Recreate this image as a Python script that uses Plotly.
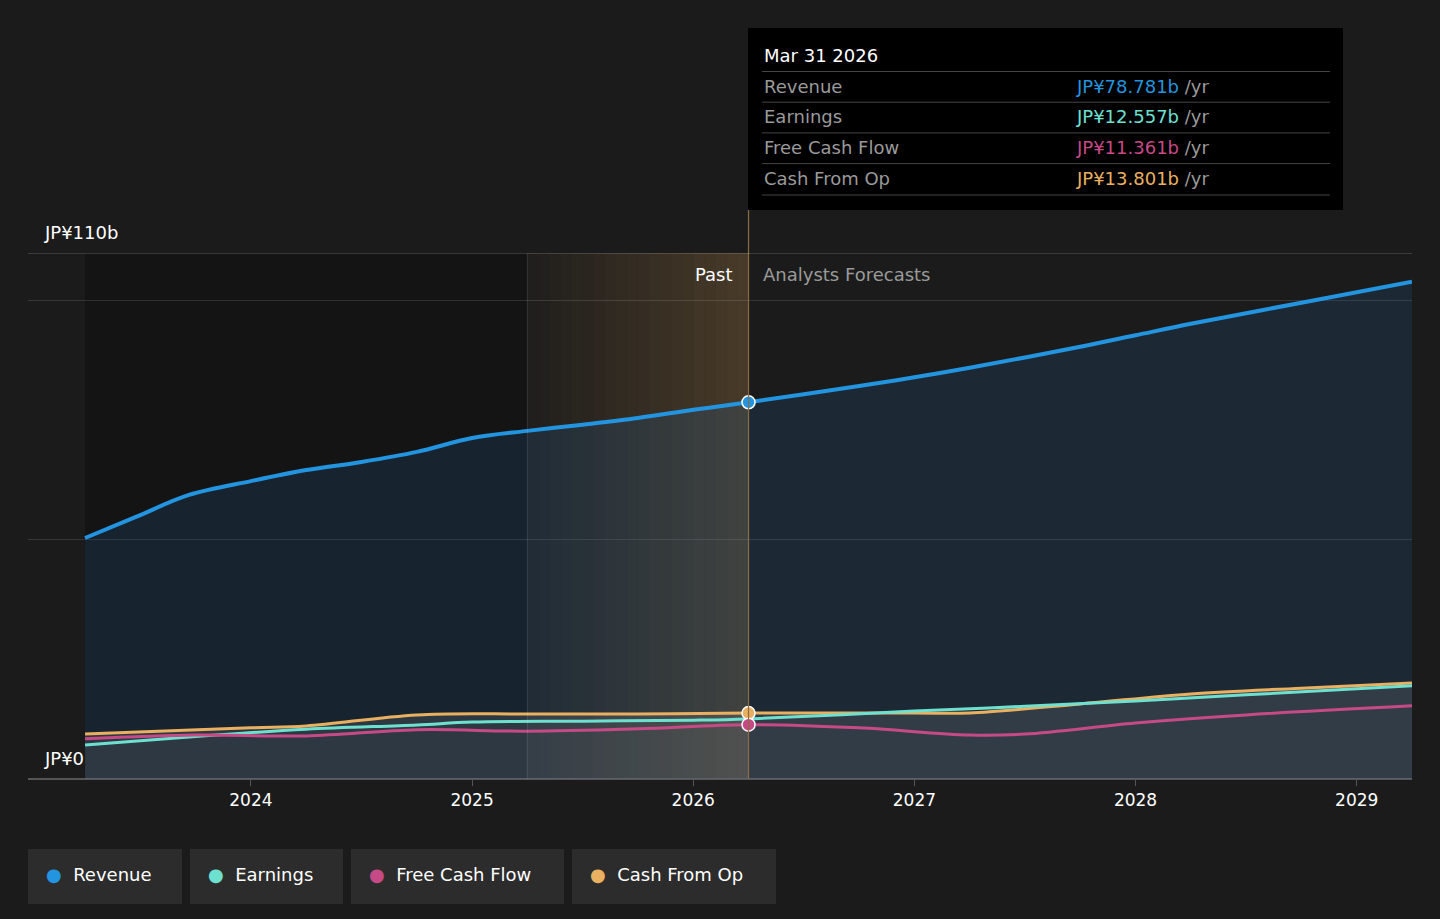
import plotly.graph_objects as go

# decimal years (Mar 31 = .25)
rev_x = [2023.25, 2023.48, 2023.72, 2024.0, 2024.25, 2024.5, 2024.75, 2025.0, 2025.25,
         2025.5, 2025.75, 2026.0, 2026.25, 2026.75, 2027.0, 2027.25, 2027.75, 2028.0,
         2028.25, 2028.75, 2029.25]
revenue = [50.4, 54.8, 59.4, 62.3, 64.6, 66.3, 68.4, 71.3, 72.8,
           74.1, 75.5, 77.2, 78.781, 82.2, 84.0, 86.0, 90.4, 92.8,
           95.2, 99.6, 104.0]

earn_x = [2023.25, 2023.75, 2024.25, 2024.75, 2025.0, 2025.5, 2026.0, 2026.25, 2027.0, 2027.5, 2028.0, 2028.5, 2029.25]
earnings = [7.1, 8.9, 10.4, 11.3, 11.9, 12.1, 12.3, 12.557, 14.2, 15.2, 16.3, 17.6, 19.5]

fcf_x = [2023.25, 2023.75, 2024.25, 2024.75, 2025.25, 2025.75, 2026.25, 2026.75, 2027.25, 2027.5, 2028.0, 2028.5, 2029.25]
fcf = [8.4, 9.2, 9.0, 10.3, 10.0, 10.5, 11.361, 10.7, 9.2, 9.4, 11.7, 13.4, 15.3]

cfo_x = [2023.25, 2024.0, 2024.25, 2024.75, 2025.25, 2025.75, 2026.25, 2027.0, 2027.25, 2027.75, 2028.25, 2028.75, 2029.25]
cfo = [9.4, 10.7, 11.1, 13.4, 13.6, 13.6, 13.801, 13.8, 13.8, 15.7, 17.8, 19.0, 20.1]

years = [2024, 2025, 2026, 2027, 2028, 2029]

BG = '#1b1b1b'
C_REV, C_EARN, C_FCF, C_CFO = '#2394df', '#6ee0d0', '#c64a86', '#e8b060'
FONT = 'DejaVu Sans'

fig = go.Figure()
fig.add_trace(go.Scatter(x=rev_x, y=revenue, mode='lines', line=dict(color=C_REV, width=4, shape='spline'),
                         fill='tozeroy', fillcolor='rgba(35,100,160,0.2)'))
fig.add_trace(go.Scatter(x=cfo_x, y=cfo, mode='lines', line=dict(color=C_CFO, width=3, shape='spline'),
                         fill='tozeroy', fillcolor='rgba(140,140,140,0.2)'))
fig.add_trace(go.Scatter(x=earn_x, y=earnings, mode='lines', line=dict(color=C_EARN, width=3, shape='spline')))
fig.add_trace(go.Scatter(x=fcf_x, y=fcf, mode='lines', line=dict(color=C_FCF, width=3, shape='spline')))
for xs, ys, c in [(rev_x, revenue, C_REV), (cfo_x, cfo, C_CFO), (fcf_x, fcf, C_FCF)]:
    i = xs.index(2026.25)
    fig.add_trace(go.Scatter(x=[xs[i]], y=[ys[i]], mode='markers',
                             marker=dict(color=c, size=13, line=dict(color='white', width=1.5))))

shapes = [
    dict(type='rect', xref='x', yref='y', x0=2023.25, x1=2025.25, y0=0, y1=110,
         fillcolor='rgba(0,0,0,0.25)', line_width=0, layer='below'),
    dict(type='line', xref='x', yref='y', x0=2025.25, x1=2025.25, y0=0, y1=110,
         line=dict(color='rgba(255,255,255,0.12)', width=1)),
    dict(type='line', xref='x', yref='paper', x0=2026.25, x1=2026.25, y0=0, y1=1.083,
         line=dict(color='#8a6d45', width=1.2)),
    dict(type='line', xref='paper', yref='y', x0=0, x1=1, y0=110, y1=110,
         line=dict(color='rgba(255,255,255,0.3)', width=1)),
    # tooltip box
    dict(type='rect', xref='paper', yref='paper', x0=(748 - 28) / 1384, x1=(1343 - 28) / 1384,
         y0=(779 - 210) / 526, y1=(779 - 28) / 526, fillcolor='black', line_width=0),
]
# gradient for the last past year
n = 20
for k in range(n):
    a = 0.02 + 0.2 * (k + 1) / n
    shapes.append(dict(type='rect', xref='x', yref='y', x0=2025.25 + k / n, x1=2025.25 + (k + 1) / n,
                       y0=0, y1=110, fillcolor=f'rgba(232,170,90,{a:.3f})', line_width=0, layer='below'))

ann = [
    dict(text='JP¥110b', x=0.01, y=110, xref='paper', yref='y', yanchor='bottom', yshift=8, showarrow=False,
         font=dict(color='white', size=18), xanchor='left'),
    dict(text='JP¥0', x=0.01, y=0, xref='paper', yref='y', yanchor='bottom', yshift=8, showarrow=False,
         font=dict(color='white', size=18), xanchor='left'),
    dict(text='Past', x=2026.25, y=105.5, xref='x', yref='y', xanchor='right', xshift=-14, showarrow=False,
         font=dict(color='white', size=18)),
    dict(text='Analysts Forecasts', x=2026.25, y=105.5, xref='x', yref='y', xanchor='left', xshift=12,
         showarrow=False, font=dict(color='#9a9a9a', size=18)),
]
tx0 = (762 - 28) / 1384
tx1 = (1074 - 28) / 1384
tx2 = (1330 - 28) / 1384
ypx = lambda p: (779 - p) / 526
ann.append(dict(text='Mar 31 2026', x=tx0, y=ypx(55), xref='paper', yref='paper', xanchor='left',
                yanchor='middle', showarrow=False, font=dict(color='white', size=18)))
rows = [('Revenue', 'JP¥78.781b', C_REV), ('Earnings', 'JP¥12.557b', C_EARN),
        ('Free Cash Flow', 'JP¥11.361b', C_FCF), ('Cash From Op', 'JP¥13.801b', C_CFO)]
for k, (name, val, c) in enumerate(rows):
    yy = 86 + k * 30.7
    ann.append(dict(text=name, x=tx0, y=ypx(yy), xref='paper', yref='paper', xanchor='left',
                    yanchor='middle', showarrow=False, font=dict(color='#9a9a9a', size=18)))
    ann.append(dict(text=f'<span style="color:{c}">{val}</span> /yr', x=tx1, y=ypx(yy), xref='paper',
                    yref='paper', xanchor='left', yanchor='middle', showarrow=False,
                    font=dict(color='#9a9a9a', size=18)))
    shapes.append(dict(type='line', xref='paper', yref='paper', x0=tx0, x1=tx2,
                       y0=ypx(yy - 14.5), y1=ypx(yy - 14.5), line=dict(color='#444', width=1)))
shapes.append(dict(type='line', xref='paper', yref='paper', x0=tx0, x1=tx2,
                   y0=ypx(195), y1=ypx(195), line=dict(color='#444', width=1)))

# legend buttons
legend = [('Revenue', C_REV, 28, 182), ('Earnings', C_EARN, 190, 343),
          ('Free Cash Flow', C_FCF, 351, 564), ('Cash From Op', C_CFO, 572, 776)]
for name, c, a, b in legend:
    shapes.append(dict(type='rect', xref='paper', yref='paper', x0=(a - 28) / 1384, x1=(b - 28) / 1384,
                       y0=ypx(904), y1=ypx(849), fillcolor='#2c2c2c', line_width=0))
    ann.append(dict(text=f'<span style="color:{c}">●</span>  {name}', x=(a + 16 - 28) / 1384, y=ypx(874),
                    xref='paper', yref='paper', xanchor='left', yanchor='middle', showarrow=False,
                    font=dict(color='white', size=18)))

fig.update_layout(
    width=1440, height=919, paper_bgcolor=BG, plot_bgcolor=BG, showlegend=False,
    margin=dict(l=28, r=28, t=253, b=140), font=dict(family=FONT, color='white'),
    xaxis=dict(range=[2022.992, 2029.25], tickvals=years, ticktext=[str(y) for y in years],
               showgrid=False, zeroline=False, tickfont=dict(size=17, color='white'),
               ticks='outside', ticklen=6, tickcolor='#555'),
    yaxis=dict(range=[0, 110], tickvals=[0, 50, 100], showticklabels=False,
               gridcolor='rgba(255,255,255,0.12)', zeroline=True, zerolinecolor='#555'),
    shapes=shapes, annotations=ann,
)
fig.write_html('out.html', config={'displayModeBar': False},
               post_script="document.body.style.margin='0';document.body.style.background='#1b1b1b';")
